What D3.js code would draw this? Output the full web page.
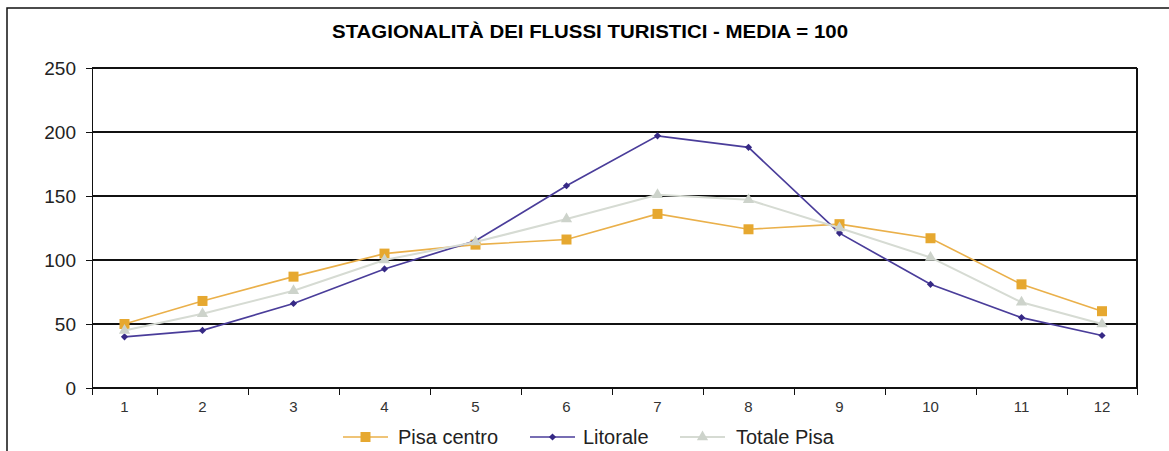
<!DOCTYPE html>
<html>
<head>
<meta charset="utf-8">
<script src="https://cdn.jsdelivr.net/npm/d3@7"></script>
<style>
  body { margin: 0; background: #fff; }
  svg { display: block; }
  text { font-family: "Liberation Sans", Arial, Helvetica, sans-serif; }
</style>
</head>
<body>
<div id="chart"></div>
<script>
// Dati (indice, media = 100)
var mesi = [1, 2, 3, 4, 5, 6, 7, 8, 9, 10, 11, 12];
var pisaCentro = [50, 68, 87, 105, 112, 116, 136, 124, 128, 117, 81, 60];
var litorale = [40, 45, 66, 93, 115, 158, 197, 188, 121, 81, 55, 41];
var totalePisa = [45, 58, 76, 100, 114, 132, 151, 147, 125, 102, 67, 50];
var yTicks = [0, 50, 100, 150, 200, 250];
var nomiSerie = ["Pisa centro", "Litorale", "Totale Pisa"];
var titolo = "STAGIONALITÀ DEI FLUSSI TURISTICI - MEDIA = 100";

var width = 1169;
var height = 451;
// attenzione: "top" è riservato su window, quindi nomi diversi
var plotLeft = 92, plotRight = 1137, plotTop = 68, plotBottom = 388;

var svg = d3.select("#chart").append("svg")
    .attr("width", width)
    .attr("height", height);

// cornice esterna (tagliata a destra e in basso)
svg.append("rect")
    .attr("x", 7).attr("y", 8)
    .attr("width", 1400).attr("height", 700)
    .attr("fill", "none")
    .attr("stroke", "#111")
    .attr("stroke-width", 1.5);

// titolo
svg.append("text")
    .attr("x", 590).attr("y", 38)
    .attr("text-anchor", "middle")
    .attr("font-weight", "bold")
    .attr("font-size", 19)
    .attr("textLength", 516)
    .attr("lengthAdjust", "spacingAndGlyphs")
    .attr("fill", "#000")
    .text(titolo);

// scala x a categorie: prima e ultima fascia più strette
var x = d3.scaleLinear()
    .domain([0.5, 1.5, 11.5, 12.5])
    .range([plotLeft, 157, 1067, plotRight]);

var y = d3.scaleLinear()
    .domain([0, 250])
    .range([plotBottom, plotTop]);

// griglia orizzontale
svg.append("g").selectAll("line")
    .data(yTicks)
    .enter().append("line")
    .attr("x1", plotLeft).attr("x2", plotRight)
    .attr("y1", function(d) { return y(d); })
    .attr("y2", function(d) { return y(d); })
    .attr("stroke", "#111")
    .attr("stroke-width", 1.5)
    .attr("shape-rendering", "crispEdges");

// asse y
var yAxis = svg.append("g")
    .attr("transform", "translate(" + plotLeft + ",0)")
    .call(d3.axisLeft(y).tickValues(yTicks).tickSize(6).tickSizeOuter(0).tickPadding(10));
yAxis.select(".domain").attr("stroke", "#111").attr("stroke-width", 1.5).attr("shape-rendering", "crispEdges");
yAxis.selectAll(".tick line").attr("stroke", "#111").attr("stroke-width", 1.5).attr("shape-rendering", "crispEdges");
yAxis.selectAll("text")
    .attr("font-size", 19)
    .attr("fill", "#222")
    .style("font-family", "'Liberation Sans', Arial, sans-serif");

// bordo destro dell'area del grafico
svg.append("line")
    .attr("x1", plotRight).attr("x2", plotRight)
    .attr("y1", plotTop).attr("y2", plotBottom)
    .attr("stroke", "#111")
    .attr("stroke-width", 1.5)
    .attr("shape-rendering", "crispEdges");

// asse x: tacche tra le categorie
var confini = mesi.map(function(m) { return m - 0.5; }).concat([12.5]);
var xAxis = svg.append("g")
    .attr("transform", "translate(0," + plotBottom + ")")
    .call(d3.axisBottom(x).tickValues(confini).tickSize(7).tickSizeOuter(0).tickFormat(""));
xAxis.select(".domain").attr("stroke", "#111").attr("stroke-width", 1.5).attr("shape-rendering", "crispEdges");
xAxis.selectAll(".tick line").attr("stroke", "#111").attr("stroke-width", 1.5).attr("shape-rendering", "crispEdges");

// etichette dei mesi
svg.append("g").selectAll("text")
    .data(mesi)
    .enter().append("text")
    .attr("x", function(d) { return x(d); })
    .attr("y", 412)
    .attr("text-anchor", "middle")
    .attr("font-size", 15)
    .attr("fill", "#333")
    .text(function(d) { return d; });

// serie
var serie = [
    { nome: nomiSerie[0], valori: pisaCentro, linea: "#EAB04A", punto: "#E6A830", simbolo: d3.symbolSquare, size: 100, ruota: 0, w: 1.6 },
    { nome: nomiSerie[1], valori: litorale, linea: "#4A3D9A", punto: "#362985", simbolo: d3.symbolSquare, size: 26, ruota: 45, w: 1.7 },
    { nome: nomiSerie[2], valori: totalePisa, linea: "#D6DBD3", punto: "#CDD3CB", simbolo: d3.symbolTriangle, size: 55, ruota: 0, w: 2 }
];

var line = d3.line()
    .x(function(d, i) { return x(mesi[i]); })
    .y(function(d) { return y(d); });

serie.forEach(function(s) {
    var g = svg.append("g");
    g.append("path")
        .datum(s.valori)
        .attr("d", line)
        .attr("fill", "none")
        .attr("stroke", s.linea)
        .attr("stroke-width", s.w);

    g.selectAll("path.punto")
        .data(s.valori)
        .enter().append("path")
        .attr("class", "punto")
        .attr("d", d3.symbol().type(s.simbolo).size(s.size))
        .attr("transform", function(d, i) {
            return "translate(" + x(mesi[i]) + "," + y(d) + ") rotate(" + s.ruota + ")";
        })
        .attr("fill", s.punto);
});

// legenda
var legendaX = [343, 530, 680];
var legendaY = 437;
serie.forEach(function(s, i) {
    var g = svg.append("g").attr("transform", "translate(" + legendaX[i] + "," + legendaY + ")");
    g.append("line")
        .attr("x1", 0).attr("x2", 45)
        .attr("y1", 0).attr("y2", 0)
        .attr("stroke", s.linea)
        .attr("stroke-width", s.w);
    g.append("path")
        .attr("d", d3.symbol().type(s.simbolo).size(s.size))
        .attr("transform", "translate(22.5,0) rotate(" + s.ruota + ")")
        .attr("fill", s.punto);
    g.append("text")
        .attr("x", i == 0 ? 55 : (i == 1 ? 53 : 56))
        .attr("y", 7)
        .attr("font-size", 20)
        .attr("fill", "#222")
        .text(s.nome);
});
</script>
</body>
</html>
